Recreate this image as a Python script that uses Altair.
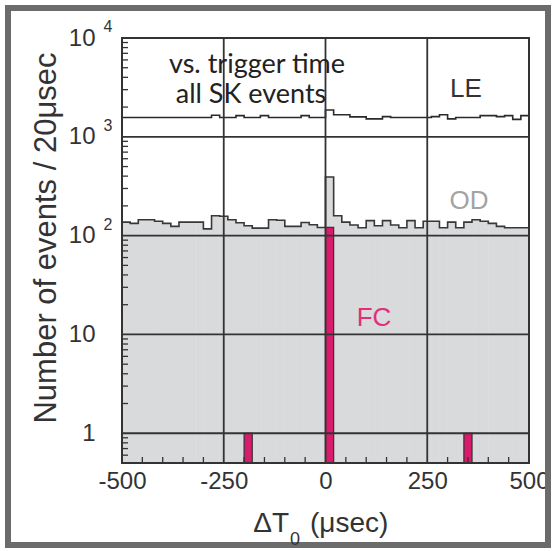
import altair as alt
import pandas as pd

# 20 microsecond bins from -500 to +500 usec
bin_start = list(range(-500, 500, 20))
bin_width = 20

# Outer-detector (OD) events per bin
od_counts = [137, 133, 145, 145, 140, 133, 124, 137, 137, 137,
             117, 159, 157, 145, 135, 126, 119, 119, 145, 143,
             124, 124, 136, 129, 121,
             392, 159, 137, 128, 120, 142, 126, 142, 128, 120,
             142, 120, 140, 140, 120, 137, 120, 137, 145, 140,
             133, 124, 120, 120, 120]

# Low-energy (LE) events per bin
le_counts = [1570, 1570, 1570, 1570, 1570, 1570, 1570, 1570, 1570, 1570,
             1570, 1650, 1570, 1570, 1640, 1570, 1570, 1640, 1570, 1570,
             1570, 1570, 1640, 1570, 1570,
             1870, 1670, 1670, 1590, 1590, 1520, 1520, 1600, 1570, 1570,
             1570, 1570, 1570, 1600, 1670, 1520, 1570, 1570, 1570, 1640,
             1640, 1600, 1640, 1500, 1640]

# Fully-contained (FC) events: only three non-empty bins
fc_start = [-200, 0, 340]
fc_counts = [1, 121, 1]

# Axis label positions and grid lines
x_labels = [-500, -250, 0, 250, 500]
x_grid = [-250, 0, 250]
x_minor = [-450, -400, -350, -300, -200, -150, -100, -50,
           50, 100, 150, 200, 300, 350, 400, 450]
y_labels = [1, 10, 100, 1000, 10000]
y_grid = [1, 10, 100, 1000]
y_minor = [0.6, 0.7, 0.8, 0.9,
           2, 3, 4, 5, 6, 7, 8, 9,
           20, 30, 40, 50, 60, 70, 80, 90,
           200, 300, 400, 500, 600, 700, 800, 900,
           2000, 3000, 4000, 5000, 6000, 7000, 8000, 9000]
y_exponents = [100, 1000, 10000]
y_exponent_text = ["2", "3", "4"]

W, H = 407, 425
DARK = "#333333"
GREY_FILL = "#d9dadc"
MAGENTA = "#d81b6a"
SANS = "Liberation Sans"

bins = pd.DataFrame({
    "start": bin_start,
    "end": [s + bin_width for s in bin_start],
    "od": od_counts,
})
# step outlines need a closing edge at +500
edges = bin_start + [bin_start[-1] + bin_width]
hist = pd.DataFrame({
    "edge": edges,
    "od": od_counts + [od_counts[-1]],
    "le": le_counts + [le_counts[-1]],
})
fc = pd.DataFrame({
    "start": fc_start,
    "end": [s + bin_width for s in fc_start],
    "count": fc_counts,
})

xscale = alt.Scale(domain=[-500, 500], nice=False, zero=False)
yscale = alt.Scale(type="log", domain=[0.5, 10000], nice=False)
xaxis = alt.Axis(values=x_labels, ticks=False, domain=False, grid=False,
                 labelExpr="toString(datum.value)",
                 labelFontSize=24, labelFont=SANS, labelColor=DARK,
                 labelPadding=6, labelFlush=False, labelOverlap=False,
                 title=None)
yaxis = alt.Axis(values=y_labels, ticks=False, domain=False, grid=False,
                 labelExpr="datum.value == 1 ? '1' : '10'",
                 labelFontSize=24, labelFont=SANS, labelColor=DARK,
                 labelPadding=27, labelFlush=False, labelOverlap=False,
                 title=None)


def X(field):
    return alt.X(field, type="quantitative", scale=xscale, axis=xaxis)


def Y(field):
    return alt.Y(field, type="quantitative", scale=yscale, axis=yaxis)


# grey fill under the OD histogram, one rect per bin
od_fill = alt.Chart(bins).mark_rect(
    color=GREY_FILL, stroke=GREY_FILL, strokeWidth=0.6
).encode(x=X("start"), x2="end", y=Y("od"), y2=alt.value(H))

od_line = alt.Chart(hist).mark_line(
    interpolate="step-after", color="#383838", strokeWidth=1.6
).encode(x=X("edge"), y=Y("od"))

le_line = alt.Chart(hist).mark_line(
    interpolate="step-after", color="#2a2a2a", strokeWidth=1.6
).encode(x=X("edge"), y=Y("le"))

fc_bars = alt.Chart(fc).mark_rect(
    color=MAGENTA, stroke=DARK, strokeWidth=1.2
).encode(x=X("start"), x2="end", y=Y("count"), y2=alt.value(H))

grid_y = alt.Chart(pd.DataFrame({"v": y_grid})).mark_rule(
    color=DARK, strokeWidth=1.8
).encode(y=Y("v"))

grid_x = alt.Chart(pd.DataFrame({"v": x_grid})).mark_rule(
    color=DARK, strokeWidth=1.8
).encode(x=X("v"))

ticks_y = alt.Chart(pd.DataFrame({"v": y_minor})).mark_rule(
    color=DARK, strokeWidth=1.3
).encode(y=Y("v"), x=alt.value(0), x2=alt.value(6))

ticks_x = alt.Chart(pd.DataFrame({"v": x_minor})).mark_rule(
    color=DARK, strokeWidth=1.3
).encode(x=X("v"), y=alt.value(H - 6), y2=alt.value(H))

exponents = alt.Chart(pd.DataFrame({"v": y_exponents, "t": y_exponent_text})).mark_text(
    font=SANS, fontSize=16, color=DARK, align="center", baseline="middle", dy=-11
).encode(y=Y("v"), x=alt.value(-14), text="t:N")

plot_frame = alt.Chart(pd.DataFrame({"a": [0]})).mark_rect(
    filled=False, stroke=DARK, strokeWidth=2
).encode(x=alt.value(0), x2=alt.value(W), y=alt.value(0), y2=alt.value(H))

outer_frame = alt.Chart(pd.DataFrame({"a": [0]})).mark_rect(
    filled=False, stroke="#6b6b6b", strokeWidth=6
).encode(x=alt.value(-114), x2=alt.value(426), y=alt.value(-30), y2=alt.value(507))


def label(text, x, y, size, color, font=SANS, align="center", angle=0):
    return alt.Chart(pd.DataFrame({"t": [text]})).mark_text(
        font=font, fontSize=size, color=color, align=align,
        baseline="middle", angle=angle
    ).encode(x=alt.value(x), y=alt.value(y), text="t:N")


texts = [
    label("vs. trigger time", 135, 27, 27, "#222222", font="Lato"),
    label("all SK events", 129, 57, 27, "#222222", font="Lato"),
    label("LE", 344, 51, 26, DARK),
    label("OD", 347, 163, 26, "#a3a3a3"),
    label("FC", 252, 280, 26, "#e0307a"),
    label("ΔT", 167, 486, 28, DARK, align="right"),
    label("0", 173, 502, 18, DARK),
    label("(μsec)", 188, 486, 28, DARK, align="left"),
    label("Number of events / 20μsec", -75, 200, 31, DARK, angle=270),
]

chart = alt.layer(
    od_fill, od_line, le_line, fc_bars, grid_y, grid_x,
    ticks_y, ticks_x, plot_frame, exponents, outer_frame, *texts
).properties(
    width=W, height=H,
    padding={"left": 122, "top": 38, "right": 27, "bottom": 88},
    autosize=alt.AutoSizeParams(type="none"),
    background="white",
).configure_view(stroke=None)

chart.save("out.html", embed_options={"renderer": "svg", "actions": False})
